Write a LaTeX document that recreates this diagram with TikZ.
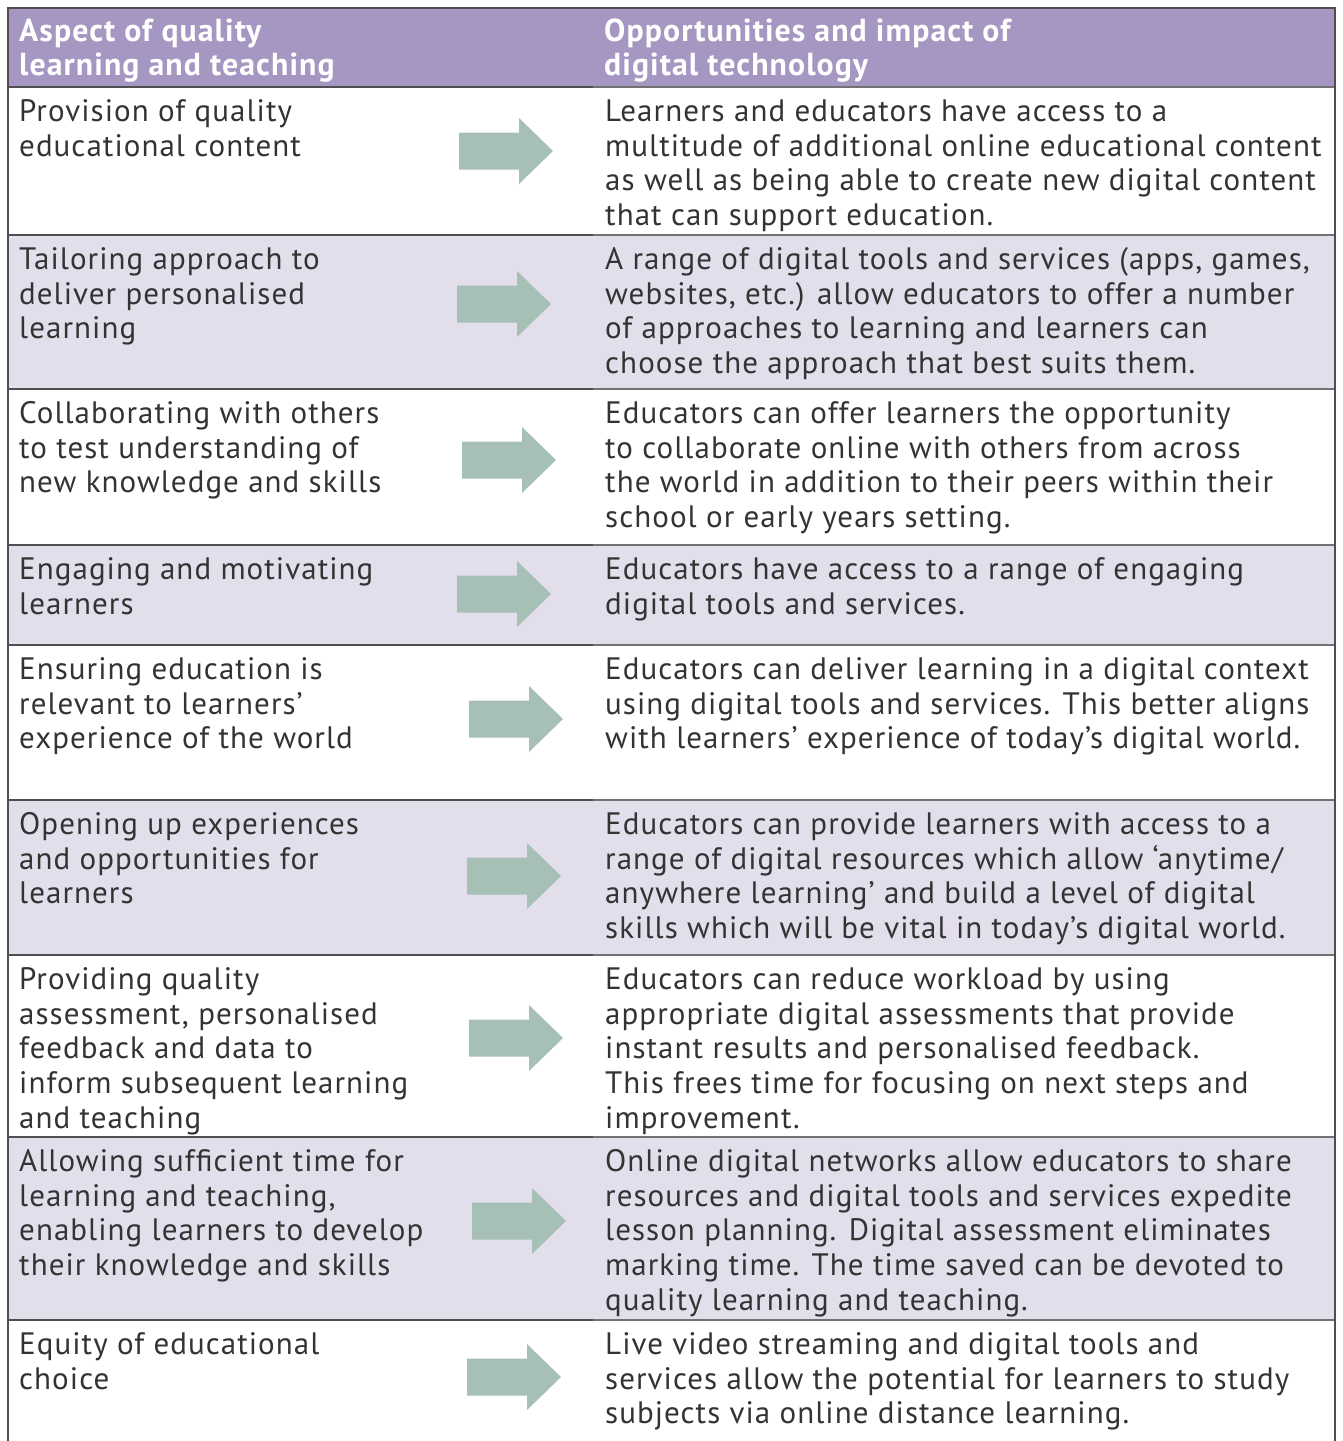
\documentclass[tikz,border=0pt]{standalone}
\usepackage{fontspec}
\setmainfont[LetterSpace=3.4]{PT Sans}
\definecolor{hdrpurple}{HTML}{A696C2}
\definecolor{rowlav}{HTML}{E3DEEB}
\definecolor{arrowgreen}{HTML}{A6C0B6}
\definecolor{txtgray}{HTML}{333333}
\definecolor{ruleL}{HTML}{4E4E4E}
\definecolor{ruleR}{HTML}{727272}
\tikzset{
  celltext/.style={anchor=base west, inner sep=0pt, align=left, text=txtgray,
    font=\fontsize{31}{34.7}\selectfont},
  hdrtext/.style={anchor=base west, inner sep=0pt, align=left, text=white,
    font=\bfseries\fontsize{31.8}{34}\selectfont},
  bigarrow/.pic={\fill[arrowgreen] (0,-18.5) -- (60,-18.5) -- (60,-33) -- (94,0) -- (60,33) -- (60,18.5) -- (0,18.5) -- cycle;}
}
\begin{document}
\begin{tikzpicture}[x=1pt,y=-1pt]
\useasboundingbox (0,0) rectangle (1343,1441);
% fills
\fill[hdrpurple] (8,8) rectangle (1335,87);
\fill[rowlav] (8,235) rectangle (1335,389);
\fill[rowlav] (8,545) rectangle (1335,645);
\fill[rowlav] (8,800) rectangle (1335,955);
\fill[rowlav] (8,1137) rectangle (1335,1320);
% rules
\foreach \yy in {87,235,389,545,645,800,955,1137,1320}{
  \draw[ruleL, line width=1.6pt] (8,\yy) -- (593,\yy);
  \draw[ruleR, line width=1.6pt] (593,\yy) -- (1335,\yy);
}
\draw[ruleL, line width=1.6pt] (8,1441) -- (8,8) -- (1335,8) -- (1335,1441);
% header (base = last line)
\node[hdrtext] (h1) at (19,75) {Aspect of quality\\learning and teaching};
\node[hdrtext] (h2) at (604,75) {Opportunities and impact of\\digital technology};
% row 1
\node[celltext] (l1) at (19,156.2) {Provision of quality\\educational content};
\node[celltext] (r1) at (605,225.6) {Learners and educators have access to a\\multitude of additional online educational content\\as well as being able to create new digital content\\that can support education.};
\pic at (459,151) {bigarrow};
% row 2
\node[celltext] (l2) at (19,338.9) {Tailoring approach to\\deliver personalised\\learning};
\node[celltext] (r2) at (605,373.6) {A range of digital tools and services (apps, games,\\websites, etc.) allow educators to offer a number\\of approaches to learning and learners can\\choose the approach that best suits them.};
\pic at (457,304) {bigarrow};
% row 3
\node[celltext] (l3) at (19,492.9) {Collaborating with others\\to test understanding of\\new knowledge and skills};
\node[celltext] (r3) at (605,527.6) {Educators can offer learners the opportunity\\to collaborate online with others from across\\the world in addition to their peers within their\\school or early years setting.};
\pic at (462,460) {bigarrow};
% row 4
\node[celltext] (l4) at (19,614.2) {Engaging and motivating\\learners};
\node[celltext] (r4) at (605,614.2) {Educators have access to a range of engaging\\digital tools and services.};
\pic at (457,594) {bigarrow};
% row 5
\node[celltext] (l5) at (19,748.9) {Ensuring education is\\relevant to learners’\\experience of the world};
\node[celltext] (r5) at (605,748.9) {Educators can deliver learning in a digital context\\using digital tools and services. This better aligns\\with learners’ experience of today’s digital world.};
\pic at (469,719) {bigarrow};
% row 6
\node[celltext] (l6) at (19,903.9) {Opening up experiences\\and opportunities for\\learners};
\node[celltext] (r6) at (605,938.6) {Educators can provide learners with access to a\\range of digital resources which allow ‘anytime/\\anywhere learning’ and build a level of digital\\skills which will be vital in today’s digital world.};
\pic at (467,876) {bigarrow};
% row 7
\node[celltext] (l7) at (19,1128.3) {Providing quality\\assessment, personalised\\feedback and data to\\inform subsequent learning\\and teaching};
\node[celltext] (r7) at (605,1128.3) {Educators can reduce workload by using\\appropriate digital assessments that provide\\instant results and personalised feedback.\\This frees time for focusing on next steps and\\improvement.};
\pic at (469,1038) {bigarrow};
% row 8
\node[celltext] (l8) at (19,1275.6) {Allowing sufficient time for\\learning and teaching,\\enabling learners to develop\\their knowledge and skills};
\node[celltext] (r8) at (605,1310.3) {Online digital networks allow educators to share\\resources and digital tools and services expedite\\lesson planning. Digital assessment eliminates\\marking time. The time saved can be devoted to\\quality learning and teaching.};
\pic at (472,1221) {bigarrow};
% row 9
\node[celltext] (l9) at (19,1389.2) {Equity of educational\\choice};
\node[celltext] (r9) at (605,1423.9) {Live video streaming and digital tools and\\services allow the potential for learners to study\\subjects via online distance learning.};
\pic at (467,1377) {bigarrow};
\end{tikzpicture}
\end{document}
